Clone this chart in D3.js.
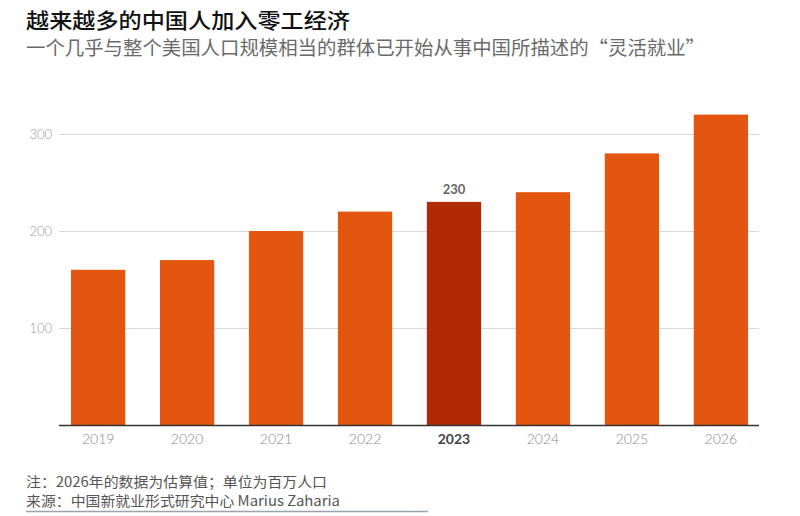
<!DOCTYPE html>
<html>
<head>
<meta charset="utf-8">
<script src="https://cdn.jsdelivr.net/npm/d3@7"></script>
<style>
  body { margin: 0; background: #fff; }
  svg { display: block; }
</style>
</head>
<body>
<div id="chart"></div>
<script>
const years = ['2019', '2020', '2021', '2022', '2023', '2024', '2025', '2026'];
const workers = [160, 170, 200, 220, 230, 240, 280, 320];
const yTicks = [100, 200, 300];
const highlightYear = '2023';

const width = 800, height = 516;
const cjk = '"Noto Sans CJK SC", sans-serif';

const svg = d3.select('#chart')
    .append('svg')
    .attr('width', width)
    .attr('height', height);

// titles
svg.append('text')
    .attr('x', 26)
    .attr('y', 28)
    .attr('textLength', 324)
    .attr('lengthAdjust', 'spacingAndGlyphs')
    .style('font-family', cjk)
    .style('font-size', '21px')
    .style('font-weight', 500)
    .style('fill', '#111')
    .text('越来越多的中国人加入零工经济');

svg.append('text')
    .attr('x', 26)
    .attr('y', 55)
    .attr('textLength', 679)
    .attr('lengthAdjust', 'spacingAndGlyphs')
    .style('font-family', cjk)
    .style('font-size', '19px')
    .style('fill', '#6a6a6a')
    .text('一个几乎与整个美国人口规模相当的群体已开始从事中国所描述的“灵活就业”');

const x = d3.scaleBand()
    .domain(years)
    .range([59, 760])
    .paddingInner(0.39)
    .paddingOuter(0.135);

const y = d3.scaleLinear()
    .domain([0, 300])
    .range([425, 134]);

// gridlines + y labels
const yAxis = svg.append('g')
    .attr('transform', 'translate(59,0)')
    .call(d3.axisLeft(y).tickValues(yTicks).tickSize(-700).tickPadding(7));
yAxis.select('.domain').remove();
yAxis.selectAll('line').attr('stroke', '#d9d9d9');
yAxis.selectAll('text')
    .style('font-family', 'Lato, sans-serif')
    .style('font-weight', 300)
    .style('font-size', '13px')
    .style('fill', '#999');

// bars
svg.append('g')
    .selectAll('rect')
    .data(workers)
    .join('rect')
    .attr('x', (d, i) => x(years[i]))
    .attr('y', d => y(d))
    .attr('width', x.bandwidth())
    .attr('height', d => y(0) - y(d))
    .attr('fill', (d, i) => years[i] === highlightYear ? '#b22a03' : '#e2560f');

// value label on highlighted bar
const hi = years.indexOf(highlightYear);
svg.append('text')
    .attr('x', x(highlightYear) + x.bandwidth() / 2)
    .attr('y', y(workers[hi]) - 8)
    .attr('text-anchor', 'middle')
    .style('font-family', 'Lato, sans-serif')
    .style('font-weight', 700)
    .style('font-size', '13px')
    .style('fill', '#666')
    .text(workers[hi]);

// x axis
const xAxis = svg.append('g')
    .attr('transform', 'translate(0,425)')
    .call(d3.axisBottom(x).tickSize(0).tickPadding(9).tickSizeOuter(0));
xAxis.select('.domain')
    .attr('d', 'M59,0.5H759')
    .attr('stroke', '#333')
    .attr('stroke-width', 1.3);
xAxis.selectAll('text')
    .style('font-family', 'Lato, sans-serif')
    .style('font-size', '14px')
    .style('font-weight', d => d === highlightYear ? 700 : 300)
    .style('fill', d => d === highlightYear ? '#444' : '#888');

// footer
svg.append('text')
    .attr('x', 26)
    .attr('y', 487)
    .attr('textLength', 301)
    .attr('lengthAdjust', 'spacingAndGlyphs')
    .style('font-family', cjk)
    .style('font-size', '14px')
    .style('fill', '#555')
    .text('注：2026年的数据为估算值；单位为百万人口');

svg.append('text')
    .attr('x', 26)
    .attr('y', 506)
    .attr('textLength', 314)
    .attr('lengthAdjust', 'spacingAndGlyphs')
    .style('font-family', cjk)
    .style('font-size', '14px')
    .style('fill', '#555')
    .text('来源：中国新就业形式研究中心 Marius Zaharia');

svg.append('line')
    .attr('x1', 26)
    .attr('x2', 428)
    .attr('y1', 511.5)
    .attr('y2', 511.5)
    .attr('stroke', '#9aa3ad')
    .attr('stroke-width', 1.5);
</script>
</body>
</html>
